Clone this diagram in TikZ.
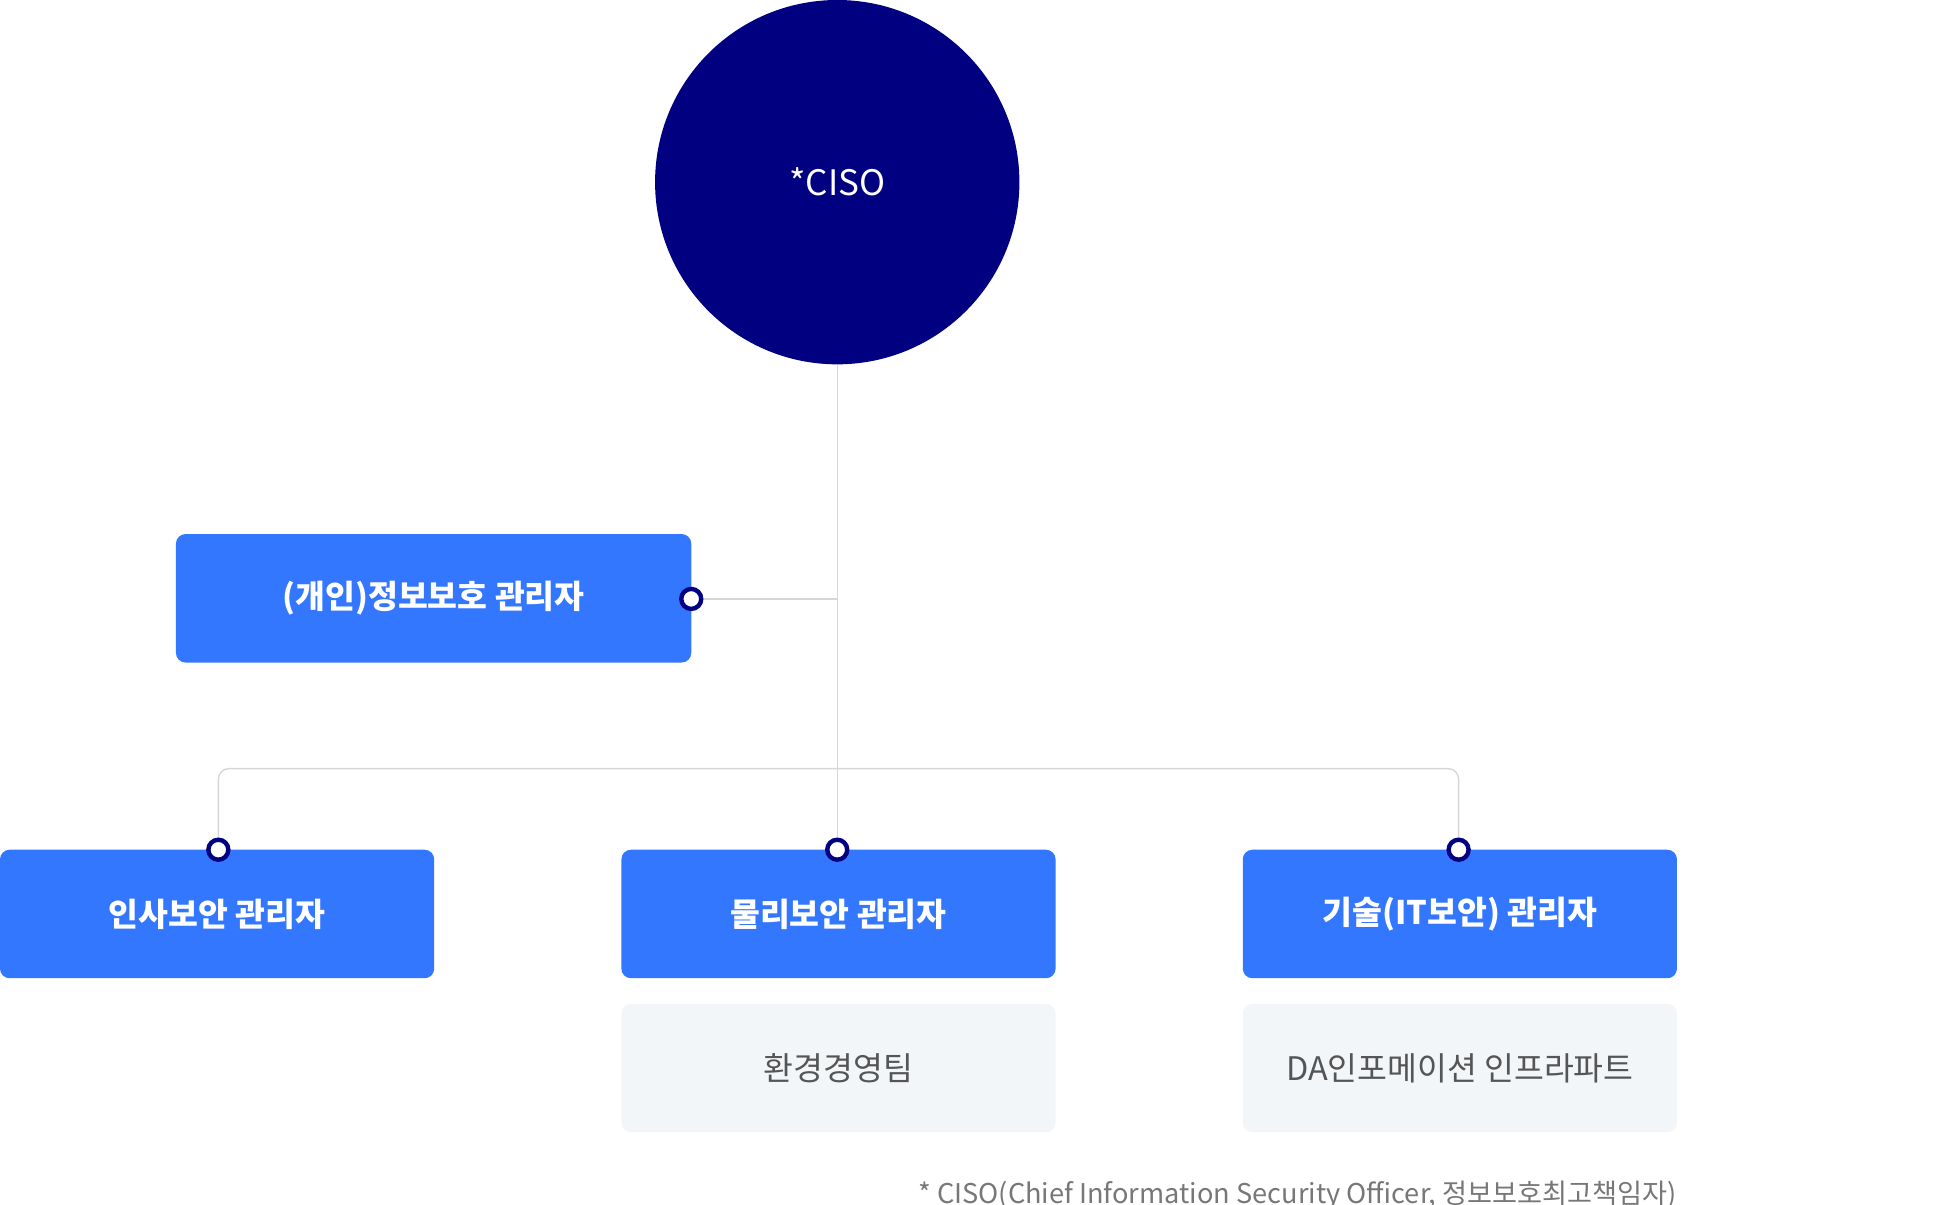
\documentclass[tikz,border=0pt]{standalone}
\usepackage{fontspec}
\setmainfont{Noto Sans CJK KR}
\definecolor{navy}{HTML}{000080}
\definecolor{bblue}{HTML}{3377FF}
\definecolor{lgray}{HTML}{F3F6F9}
\definecolor{lline}{HTML}{D6D6D6}
\definecolor{tgray}{HTML}{555555}
\definecolor{fgray}{HTML}{777777}
\begin{document}
\begin{tikzpicture}[x=0.05cm,y=-0.05cm,
  bbox/.style={fill=bblue,rounded corners=11pt,text=white,font=\fontsize{37}{40}\selectfont\bfseries,minimum width=348*0.05cm,minimum height=103*0.05cm,inner sep=0},
  gbox/.style={fill=lgray,rounded corners=11pt,text=tgray,font=\fontsize{37}{40}\selectfont,minimum width=348*0.05cm,minimum height=103*0.05cm,inner sep=0},
  conn/.style={draw=lline,line width=1.6pt},
  pin/.style={circle,draw=navy,line width=5pt,fill=white,minimum size=16*0.05cm,inner sep=0}]
\useasboundingbox (0,0) rectangle (1550,965);
\node[circle,fill=navy,minimum size=292*0.05cm,inner sep=0,text=white,font=\fontsize{40}{44}\selectfont] (ciso) at (671,146) {*CISO};
\node[bbox,minimum width=413*0.05cm] (p) at (347.5,479.5) {(개인)정보보호 관리자};
\node[bbox] (a) at (174,732.5) {인사보안 관리자};
\node[bbox] (b) at (672,732.5) {물리보안 관리자};
\node[bbox] (c) at (1170,732.5) {기술(IT보안) 관리자};
\node[gbox] (b2) at (672,856) {환경경영팀};
\node[gbox] (c2) at (1170,856) {DA인포메이션 인프라파트};
\coordinate (pa) at (175,681);
\coordinate (pb) at (671,681);
\coordinate (pc) at (1169,681);
\coordinate (pp) at (554,480);
\coordinate (j) at (671,480);
\draw[conn] (ciso.south) -- (pb);
\draw[conn] (pp) -- (j);
\draw[conn,rounded corners=12pt] (pa) -- (175,616) -- (1169,616) -- (pc);
\node[pin] at (pa) {};
\node[pin] at (pb) {};
\node[pin] at (pc) {};
\node[pin] at (pp) {};
\node[anchor=east,text=fgray,font=\fontsize{31}{34}\selectfont,inner sep=0] (fn) at (1344,958) {* CISO(Chief Information Security Officer, 정보보호최고책임자)};
\end{tikzpicture}
\end{document}
